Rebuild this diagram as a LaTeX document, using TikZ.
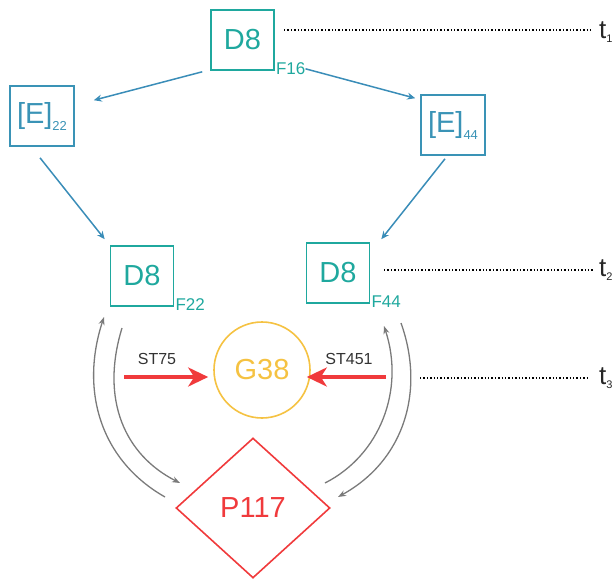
\documentclass[tikz,border=0pt]{standalone}
\usepackage{fontspec}
\setmainfont{Liberation Sans}
\usetikzlibrary{arrows.meta,calc,shapes.geometric}
\definecolor{tealD}{HTML}{1FA89E}
\definecolor{blueE}{HTML}{3A93B6}
\definecolor{arrB}{HTML}{3A8DB8}
\definecolor{yel}{HTML}{F5C242}
\definecolor{redP}{HTML}{F03A3C}
\definecolor{grayC}{HTML}{7A7A7A}
\definecolor{txtD}{HTML}{333333}
\newcommand{\sz}[1]{\fontsize{#1}{#1}\selectfont}
\begin{document}
\begin{tikzpicture}[x=1pt,y=-1pt,
  dbox/.style={draw=tealD, text=tealD, line width=1.6pt, minimum width=63pt, minimum height=60pt, inner sep=0pt, font=\sz{29}},
  ebox/.style={draw=blueE, text=blueE, line width=1.6pt, minimum width=64pt, minimum height=60pt, inner sep=0pt, font=\sz{29}},
  flab/.style={text=tealD, font=\sz{17}, inner sep=0pt, anchor=west},
  barr/.style={draw=arrB, line width=1.5pt, -{Stealth[length=8pt,width=7pt]}},
  rarr/.style={draw=redP, line width=3.5pt, -{Stealth[length=20pt,width=19pt,inset=6pt]}},
  garr/.style={draw=grayC, line width=1.3pt, -{Stealth[length=8pt,width=6pt]}},
  dotl/.style={draw=black, line width=1.4pt, dash pattern=on 1.3pt off 2.1pt},
  tlab/.style={text=txtD, font=\sz{16}, inner sep=0pt},
  tname/.style={text=black!85, font=\sz{26}, inner sep=0pt, anchor=west}
]
\useasboundingbox (0,0) rectangle (614,579);

% boxes
\node[dbox] (D8t) at (242.5,40) {D8};
\node[ebox] (E22) at (42,116) {[E]\raisebox{-7pt}{\sz{13}22}};
\node[ebox] (E44) at (453,125) {[E]\raisebox{-7pt}{\sz{13}44}};
\node[dbox] (D8l) at (142,276) {D8};
\node[dbox] (D8r) at (338,273) {D8};

% F labels
\node[flab] (F16) at ($(D8t.south east)+(1,-2)$) {F16};
\node[flab] (F22) at ($(D8l.south east)+(1,-2)$) {F22};
\node[flab] (F44) at ($(D8r.south east)+(1,-2)$) {F44};

% G38 and P117
\node[circle, draw=yel, text=yel, line width=1.6pt, minimum size=96pt, inner sep=0pt, font=\sz{29}] (G38) at (262,370) {G38};
\node[diamond, draw=redP, text=redP, line width=1.6pt, minimum width=154pt, minimum height=140pt, inner sep=0pt, font=\sz{29}] (P117) at (253,508) {P117};

% blue arrows
\draw[barr] ($(D8t.south west)+(-8,1)$) -- ($(E22.north east)+(19,15)$);
\draw[barr] (F16.east) -- ($(E44.north west)+(-5,4)$);
\draw[barr] ($(E22.south)+(-2,11)$) -- ($(D8l.north west)+(-5,-6)$);
\draw[barr] ($(E44.south)+(-8,3)$) -- ($(D8r.north east)+(11,-3)$);

% red arrows
\node[tlab] (ST75) at (157,359) {ST75};
\node[tlab] (ST451) at (349,359) {ST451};
\coordinate (rl) at (124,377);
\coordinate (rr) at (386,377);
\draw[rarr] (rl) -- ($(G38.west)+(-5,7)$);
\draw[rarr] (rr) -- ($(G38.east)+(-4,7)$);

% gray curves
\coordinate (li1) at (122,328);
\coordinate (li2) at (180,483);
\coordinate (lo1) at (165,497);
\coordinate (lo2) at (104,317);
\coordinate (ri1) at (325,483);
\coordinate (ri2) at (384,326);
\coordinate (ro1) at (401,323);
\coordinate (ro2) at (338,497);
\draw[garr] (li1) .. controls (100,400) and (125,455) .. (li2);
\draw[garr] (lo1) .. controls (100,460) and (80,390) .. (lo2);
\draw[garr] (ri1) .. controls (380,455) and (405,390) .. (ri2);
\draw[garr] (ro1) .. controls (425,390) and (405,460) .. (ro2);

% time lines
\node[tname] (t1) at (599,32) {t\raisebox{-4pt}{\sz{11}1}};
\node[tname] (t2) at (599,270) {t\raisebox{-4pt}{\sz{11}2}};
\node[tname] (t3) at (599,378) {t\raisebox{-4pt}{\sz{11}3}};
\coordinate (d1) at (284,30);
\coordinate (d2) at (384,270);
\coordinate (d3) at (420,378);
\draw[dotl] (d1) -- ($(t1.west |- d1)+(-6,0)$);
\draw[dotl] (d2) -- ($(t2.west |- d2)+(-6,0)$);
\draw[dotl] (d3) -- ($(t3.west |- d3)+(-10,0)$);
\end{tikzpicture}
\end{document}
